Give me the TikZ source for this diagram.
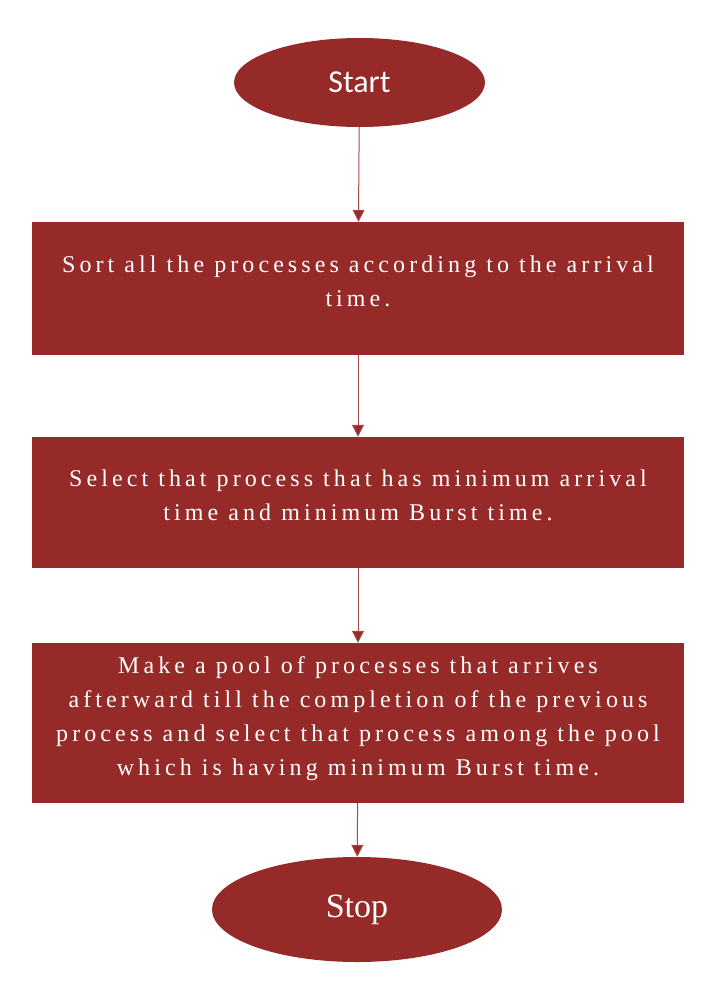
\documentclass[tikz,border=0pt]{standalone}
\usepackage{fontspec}
\usetikzlibrary{shapes.geometric,arrows.meta}
\newfontfamily\boxfont[LetterSpace=17]{Liberation Serif}
\newfontfamily\startfont{Carlito}
\newfontfamily\stopfont{Liberation Serif}
\definecolor{fcred}{HTML}{962A28}
% extra depth under the last line, lifts the text a bit
\newcommand{\lowgap}{\rule[-14pt]{0pt}{0pt}}

\begin{document}
\begin{tikzpicture}[x=1pt,y=-1pt,
	terminal/.style={ellipse,fill=fcred,text=white,inner sep=0},
	process/.style={rectangle,fill=fcred,text=white,minimum width=652pt,
		inner sep=0,align=center,font=\boxfont\fontsize{24}{34}\selectfont},
	flow/.style={draw=fcred!85,line width=1pt,
		-{Triangle[width=12pt,length=12pt,fill=fcred]}}]
\useasboundingbox (0,0) rectangle (722,999);
% start and stop
\node[terminal,minimum width=251pt,minimum height=89pt,
	font=\startfont\fontsize{32}{38}\selectfont] (start) at (359.5,82.5) {Start};
\node[terminal,minimum width=290pt,minimum height=105pt,
	font=\stopfont\fontsize{34}{40}\selectfont] (stop) at (357,909.5) {Stop};
% steps
\node[process,minimum height=133pt] (sort) at (358,288.5)
	{Sort all the processes according to the arrival\\time.\lowgap};
\node[process,minimum height=131pt] (select) at (358,502.5)
	{Select that process that has minimum arrival\\time and minimum Burst time.\lowgap};
\node[process,minimum height=160pt] (pool) at (358,723)
	{Make a pool of processes that arrives\\afterward till the completion of the previous\\process and select that process among the pool\\which is having minimum Burst time.\lowgap};
% arrows
\draw[flow] (start) -- (sort);
\draw[flow] (sort) -- (select);
\draw[flow] (select) -- (pool);
\draw[flow] (pool) -- (stop);
\end{tikzpicture}
\end{document}
